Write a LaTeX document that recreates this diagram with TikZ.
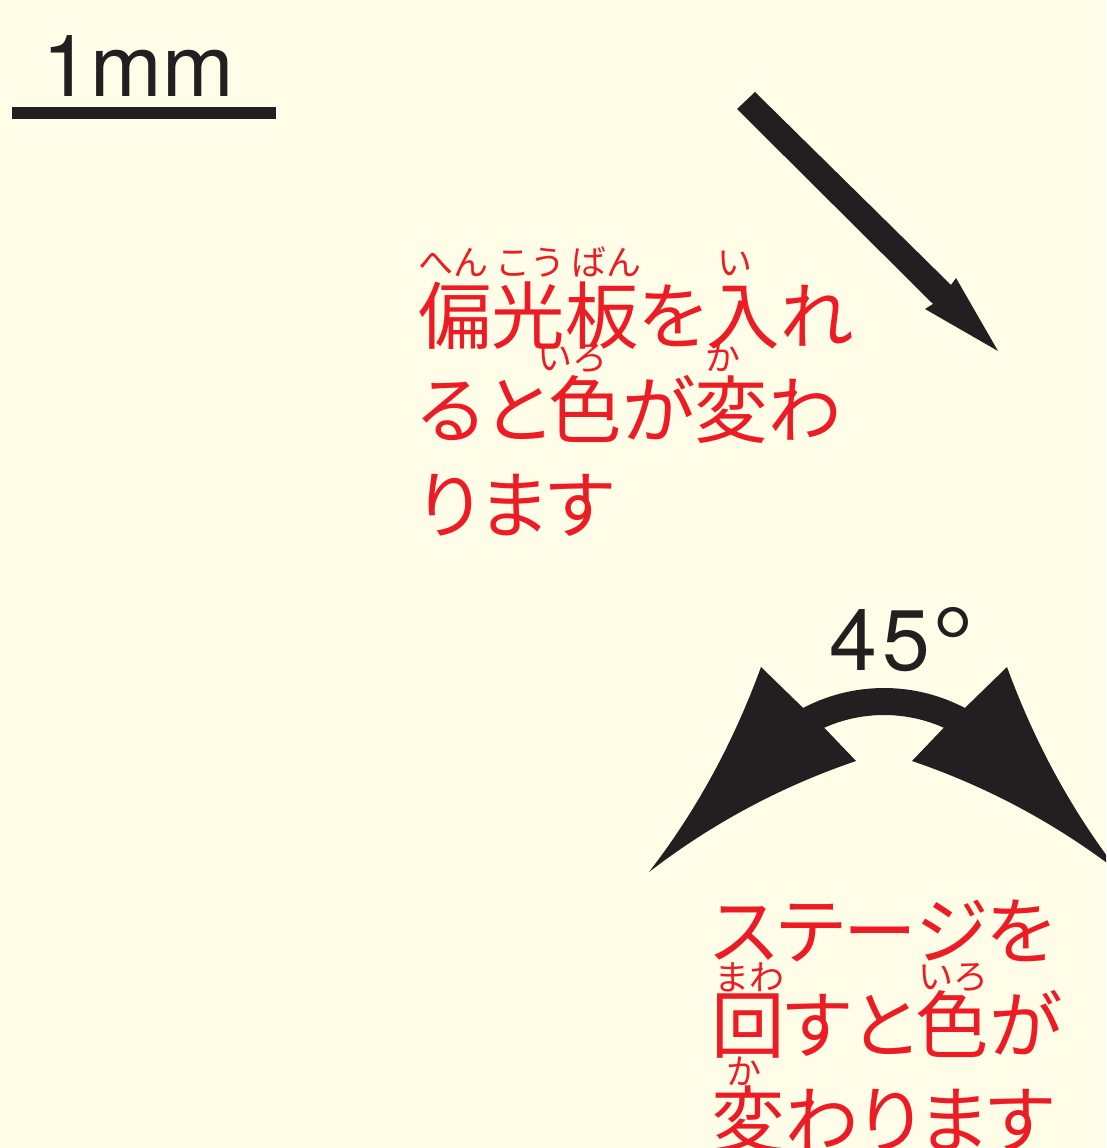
\documentclass[tikz,border=0pt]{standalone}
\usepackage{fontspec}
\newfontfamily\jp[RawFeature=+palt]{Noto Sans CJK JP}
\newfontfamily\jpr{Noto Sans CJK JP}
\newfontfamily\hv{TeX Gyre Heros}
\definecolor{bg}{HTML}{FFFDE8}
\definecolor{redc}{HTML}{ED1C24}
\definecolor{ink}{HTML}{231F20}
\tikzset{
  jtext/.style={text=redc, font=\jp\fontsize{73.5}{73.5}\selectfont, anchor=base west, inner sep=0pt},
  ruby/.style={text=redc, font=\jpr\fontsize{35}{35}\selectfont, anchor=base, inner sep=0pt},
  label/.style={text=ink, font=\hv\fontsize{86}{86}\selectfont, anchor=base west, inner sep=0pt},
}
\begin{document}
\begin{tikzpicture}[x=1pt,y=-1pt]
\useasboundingbox (0,0) rectangle (1106,1148);
\fill[bg] (0,0) rectangle (1106,1148);
\clip (0,0) rectangle (1106,1148);
% scale bar
\node[label] (mm) at (42.6,96) {1mm};
\coordinate (barL) at (12,113);
\coordinate (barR) at (276,113);
\draw[ink, line width=12pt] (barL) -- (barR);
% diagonal arrow
\fill[ink] (755,92) -- (951,285) -- (956,278) -- (998,351) -- (925,309) -- (933,304) -- (737,109) -- cycle;
% text block 1
\node[jtext] (l1) at (418,343) {偏光板を入れ};
\node[jtext] (l2) at (418,437) {ると色が変わ};
\node[jtext] (l3) at (418,532) {ります};
\node[ruby] (r1) at (453.5,275) {へん};
\node[ruby] (r2) at (530,275) {こう};
\node[ruby] (r3) at (606,275) {ばん};
\node[ruby] (r4) at (735,275) {い};
\node[ruby] (r5) at (572,370) {いろ};
\node[ruby] (r6) at (723,370) {か};
% 45 degrees
\node[label] (deg) at (829,670) {4\kern5pt 5\kern3pt\raisebox{-10pt}{\fontsize{104}{104}\selectfont °}};
\fill[ink] (803.1,707.9) -- (761,667) .. controls (734,741) and (697,810) .. (649,872)
  .. controls (712,823.5) and (781,786.5) .. (856,761) -- (824.2,727.7)
  -- plot[domain=114:66, samples=40] ({884+147*cos(\x)},{862-147*sin(\x)})
  -- (912,761) .. controls (987,786.5) and (1056,823.5) .. (1119,872)
  .. controls (1071,810) and (1034,741) .. (1007,667) -- (964.9,707.9)
  -- plot[domain=62.3:117.7, samples=40] ({884+174*cos(\x)},{862-174*sin(\x)}) -- cycle;
% text block 2
\node[jtext] (m1) at (711,958) {ステージを};
\node[jtext] (m2) at (711,1052) {回すと色が};
\node[jtext] (m3) at (711,1147) {変わります};
\node[ruby] (s1) at (749.5,990) {まわ};
\node[ruby] (s2) at (953,989) {いろ};
\node[ruby] (s3) at (744,1084) {か};
\end{tikzpicture}
\end{document}
